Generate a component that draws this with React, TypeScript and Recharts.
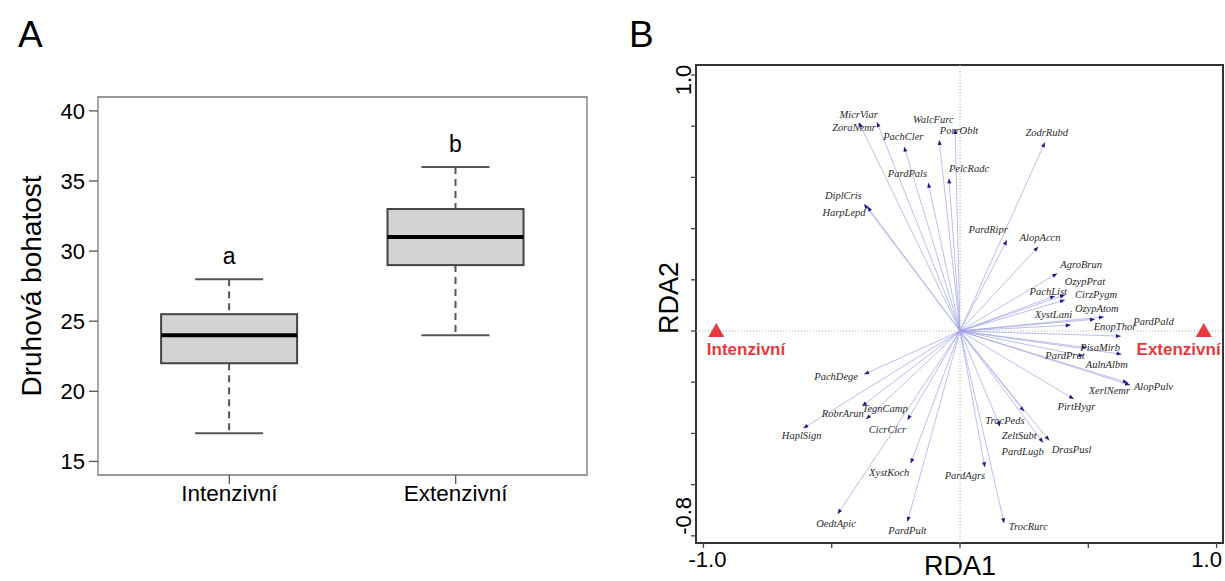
import React from 'react';
import {
  ComposedChart,
  ScatterChart,
  Scatter,
  Bar,
  XAxis,
  YAxis,
  ReferenceLine,
  ReferenceArea,
} from 'recharts';

// ---------- Panel A: boxplot data ----------
const groups = ['Intenzivní', 'Extenzivní'];
const groupPos = [1, 2];
const whiskerLow = [17, 24];
const quart1 = [22, 29];
const medians = [24, 31];
const quart3 = [25.5, 33];
const whiskerHigh = [28, 36];
const letters = ['a', 'b'];
const yTicksA = [15, 20, 25, 30, 35, 40];

// ---------- Panel B: RDA biplot data ----------
const speciesNames = [
  'MicrViar', 'ZoraNemr', 'PachCler', 'WalcFurc', 'PorrOblt', 'ZodrRubd', 'PardPals', 'PelcRadc',
  'DiplCris', 'HarpLepd', 'PardRipr', 'AlopAccn', 'AgroBrun', 'OzypPrat', 'PachList', 'CirzPygm',
  'XystLani', 'OzypAtom', 'EnopThor', 'PardPald', 'PisaMirb', 'PardPrat', 'AulnAlbm', 'XerlNemr',
  'AlopPulv', 'PirtHygr', 'PachDege', 'TegnCamp', 'RobrArun', 'CicrCicr', 'HaplSign', 'XystKoch',
  'OedtApic', 'PardPult', 'PardAgrs', 'TrocPeds', 'ZeltSubt', 'PardLugb', 'DrasPusl', 'TrocRurc',
];
const speciesRDA1 = [
  -0.324, -0.394, -0.218, -0.081, -0.019, 0.331, -0.124, -0.043,
  -0.374, -0.361, 0.183, 0.305, 0.379, 0.409, 0.37, 0.409,
  0.432, 0.561, 0.526, 0.627, 0.494, 0.481, 0.63, 0.654,
  0.663, 0.444, -0.374, -0.382, -0.366, -0.205, -0.611, -0.192,
  -0.477, -0.205, 0.097, 0.156, 0.25, 0.324, 0.348, 0.172,
];
const speciesRDA2 = [
  0.816, 0.815, 0.72, 0.746, 0.789, 0.737, 0.579, 0.596,
  0.496, 0.486, 0.355, 0.329, 0.225, 0.141, 0.137, 0.121,
  0.023, 0.055, 0.046, -0.02, -0.065, -0.098, -0.091, -0.202,
  -0.211, -0.266, -0.169, -0.293, -0.345, -0.348, -0.38, -0.517,
  -0.715, -0.745, -0.532, -0.373, -0.314, -0.436, -0.428, -0.751,
];
const labelRDA1 = [
  -0.395, -0.413, -0.221, -0.104, -0.004, 0.338, -0.205, 0.035,
  -0.455, -0.452, 0.11, 0.312, 0.472, 0.487, 0.344, 0.53,
  0.364, 0.533, 0.604, 0.754, 0.546, 0.409, 0.572, 0.582,
  0.754, 0.454, -0.483, -0.292, -0.457, -0.283, -0.617, -0.276,
  -0.483, -0.205, 0.019, 0.175, 0.231, 0.244, 0.435, 0.266,
];
const labelRDA2 = [
  0.846, 0.794, 0.758, 0.827, 0.784, 0.775, 0.617, 0.633,
  0.53, 0.462, 0.395, 0.364, 0.258, 0.195, 0.154, 0.141,
  0.065, 0.086, 0.017, 0.036, -0.065, -0.094, -0.129, -0.234,
  -0.215, -0.296, -0.176, -0.302, -0.321, -0.384, -0.41, -0.553,
  -0.751, -0.781, -0.566, -0.35, -0.407, -0.469, -0.462, -0.762,
];
const treatments = ['Intenzivní', 'Extenzivní'];
const centroidRDA1 = [-0.95, 0.95];
const centroidRDA2 = [0, 0];
const treatLabelRDA1 = [-0.834, 0.852];
const treatLabelRDA2 = [-0.074, -0.074];
const xTicksB = [-1, -0.5, 0, 0.5, 1];
const yTicksB = [-0.8, -0.6, -0.4, -0.2, 0, 0.2, 0.4, 0.6, 0.8, 1.0];

// ---------- derived tables ----------
const boxData = groups.map((g, i) => ({
  name: g,
  pos: groupPos[i],
  low: whiskerLow[i],
  q1: quart1[i],
  med: medians[i],
  q3: quart3[i],
  high: whiskerHigh[i],
  letter: letters[i],
}));
const speciesLabels = speciesNames.map((n, i) => ({ name: n, x: labelRDA1[i], y: labelRDA2[i] }));
const centroids = treatments.map((t, i) => ({ name: t, x: centroidRDA1[i], y: centroidRDA2[i] }));
const treatLabels = treatments.map((t, i) => ({ name: t, x: treatLabelRDA1[i], y: treatLabelRDA2[i] }));

const RED = '#e8383d';

const BoxShape = (props: any) => {
  const { x, y, width, height, payload } = props;
  const top = Math.min(y, y + height);
  const h = Math.abs(height);
  const k = h / (payload.q3 - payload.q1);
  const yOf = (v: number) => top + (payload.q3 - v) * k;
  const cx = x + width / 2;
  const cap = width / 4;
  return (
    <g>
      <line x1={cx} x2={cx} y1={yOf(payload.high)} y2={top} stroke="#555" strokeWidth={2} strokeDasharray="7 5" />
      <line x1={cx} x2={cx} y1={top + h} y2={yOf(payload.low)} stroke="#555" strokeWidth={2} strokeDasharray="7 5" />
      <line x1={cx - cap} x2={cx + cap} y1={yOf(payload.high)} y2={yOf(payload.high)} stroke="#555" strokeWidth={2} />
      <line x1={cx - cap} x2={cx + cap} y1={yOf(payload.low)} y2={yOf(payload.low)} stroke="#555" strokeWidth={2} />
      <rect x={x} y={top} width={width} height={h} fill="#d3d3d3" stroke="#444" strokeWidth={2} />
      <line x1={x} x2={x + width} y1={yOf(payload.med)} y2={yOf(payload.med)} stroke="#000" strokeWidth={4} />
      <text x={cx} y={yOf(payload.high) - 15} textAnchor="middle" fontSize={23} fill="#000">
        {payload.letter}
      </text>
    </g>
  );
};

const ArrowShape = (p: any) => {
  const { x1, y1, x2, y2 } = p;
  const dx = x2 - x1;
  const dy = y2 - y1;
  const len = Math.hypot(dx, dy) || 1;
  const ux = dx / len;
  const uy = dy / len;
  const L = 5;
  const W = 2;
  const bx = x2 - ux * L;
  const by = y2 - uy * L;
  const pts = `${x2},${y2} ${bx - uy * W},${by + ux * W} ${bx + uy * W},${by - ux * W}`;
  return (
    <g>
      <line x1={x1} y1={y1} x2={x2} y2={y2} stroke="#a0a0e4" strokeWidth={0.7} />
      <polygon points={pts} fill="#1b1b8a" />
    </g>
  );
};

const SpeciesLabel = (p: any) => (
  <text
    x={p.cx}
    y={p.cy}
    textAnchor="middle"
    dominantBaseline="central"
    fontFamily="'Liberation Serif', 'Times New Roman', serif"
    fontStyle="italic"
    fontSize={10.5}
    fill="#2a2a2a"
  >
    {p.payload.name}
  </text>
);

const TriangleShape = (p: any) => {
  const { cx, cy } = p;
  return <polygon points={`${cx},${cy - 8} ${cx - 8},${cy + 6} ${cx + 8},${cy + 6}`} fill={RED} />;
};

const TreatLabel = (p: any) => (
  <text x={p.cx} y={p.cy} textAnchor="middle" dominantBaseline="central" fontSize={17} fontWeight="bold" fill={RED}>
    {p.payload.name}
  </text>
);

const RotTickB = (p: any) => {
  const { x, y, payload } = p;
  const v = payload.value;
  const label = Math.abs(v - 1) < 1e-6 ? '1.0' : Math.abs(v + 0.8) < 1e-6 ? '-0.8' : '';
  if (!label) return <g />;
  const yy = label === '1.0' ? y + 5 : y - 20;
  return (
    <text x={x} y={yy} transform={`rotate(-90, ${x}, ${yy})`} textAnchor="middle" fontSize={22} fill="#000">
      {label}
    </text>
  );
};

const XTickB = (p: any) => {
  const { x, y, payload } = p;
  const v = payload.value;
  const label = v === -1 ? '-1.0' : v === 1 ? '1.0' : '';
  if (!label) return <g />;
  const shift = v === 1 ? -10 : 4;
  return (
    <text x={x + shift} y={y + 17} textAnchor="middle" fontSize={22} fill="#000">
      {label}
    </text>
  );
};

export default function App() {
  return (
    <div
      style={{
        position: 'absolute',
        left: 0,
        top: 0,
        width: 1225,
        height: 581,
        background: '#fff',
        fontFamily: "'Liberation Sans', Arial, sans-serif",
        overflow: 'hidden',
      }}
    >
      {/* Panel A */}
      <div style={{ position: 'absolute', left: 0, top: 0 }}>
        <ComposedChart width={620} height={581} data={boxData} margin={{ top: 97, right: 33, bottom: 66, left: 38 }}>
          <XAxis
            dataKey="pos"
            type="number"
            domain={[0.42, 2.58]}
            allowDataOverflow
            ticks={groupPos}
            interval={0}
            tickFormatter={(v: number) => groups[groupPos.indexOf(v)] ?? ''}
            height={40}
            axisLine={false}
            tickSize={9}
            tickMargin={1}
            tickLine={{ stroke: '#555', strokeWidth: 1.3 }}
            tick={{ fontSize: 22.5, fill: '#000' }}
          />
          <YAxis
            type="number"
            domain={[14.03, 40.99]}
            allowDataOverflow
            ticks={yTicksA}
            interval={0}
            width={60}
            axisLine={false}
            tickSize={9}
            tickMargin={4}
            tickLine={{ stroke: '#555', strokeWidth: 1.3 }}
            tick={{ fontSize: 22, fill: '#000' }}
          />
          <Bar
            dataKey={(d: any) => [d.q1, d.q3]}
            barSize={136}
            shape={BoxShape}
            isAnimationActive={false}
          />
          <ReferenceArea x1={0.42} x2={2.58} y1={14.03} y2={40.99} fill="none" stroke="#777" strokeWidth={1.3} ifOverflow="visible" />
        </ComposedChart>
      </div>

      {/* Panel B */}
      <div style={{ position: 'absolute', left: 620, top: 0 }}>
        <ScatterChart width={605} height={581} margin={{ top: 65, right: 2, bottom: 0, left: 36 }}>
          <XAxis
            dataKey="x"
            type="number"
            domain={[-1.029, 1.025]}
            allowDataOverflow
            ticks={xTicksB}
            interval={0}
            height={38}
            axisLine={false}
            tickSize={5}
            tickMargin={2}
            tickLine={{ stroke: '#444', strokeWidth: 1.3 }}
            tick={<XTickB />}
          />
          <YAxis
            dataKey="y"
            type="number"
            domain={[-0.828, 1.039]}
            allowDataOverflow
            ticks={yTicksB}
            interval={0}
            width={40}
            axisLine={false}
            tickSize={5}
            tickMargin={0}
            tickLine={{ stroke: '#444', strokeWidth: 1.3 }}
            tick={<RotTickB />}
          />
          <ReferenceLine x={0} stroke="#b0b0b0" strokeDasharray="1 2" />
          <ReferenceLine y={0} stroke="#b0b0b0" strokeDasharray="1 2" />
          {speciesNames.map((n, i) => (
            <ReferenceLine
              key={n}
              segment={[
                { x: 0, y: 0 },
                { x: speciesRDA1[i], y: speciesRDA2[i] },
              ]}
              shape={ArrowShape}
            />
          ))}
          <Scatter data={speciesLabels} shape={SpeciesLabel} isAnimationActive={false} />
          <Scatter data={centroids} shape={TriangleShape} isAnimationActive={false} />
          <Scatter data={treatLabels} shape={TreatLabel} isAnimationActive={false} />
          <ReferenceArea x1={-1.029} x2={1.025} y1={-0.828} y2={1.039} fill="none" stroke="#333" strokeWidth={2} ifOverflow="visible" />
        </ScatterChart>
      </div>

      {/* Titles */}
      <svg width={1225} height={581} style={{ position: 'absolute', left: 0, top: 0, pointerEvents: 'none' }}>
        <text x={18} y={47} fontSize={37} fill="#000">A</text>
        <text x={629} y={47} fontSize={37} fill="#000">B</text>
        <text x={41} y={286} fontSize={28} fill="#000" textAnchor="middle" transform="rotate(-90, 41, 286)">
          Druhová bohatost
        </text>
        <text x={960} y={575} fontSize={27} fill="#000" textAnchor="middle">RDA1</text>
        <text x={678} y={298} fontSize={27} fill="#000" textAnchor="middle" transform="rotate(-90, 678, 298)">
          RDA2
        </text>
      </svg>
    </div>
  );
}
